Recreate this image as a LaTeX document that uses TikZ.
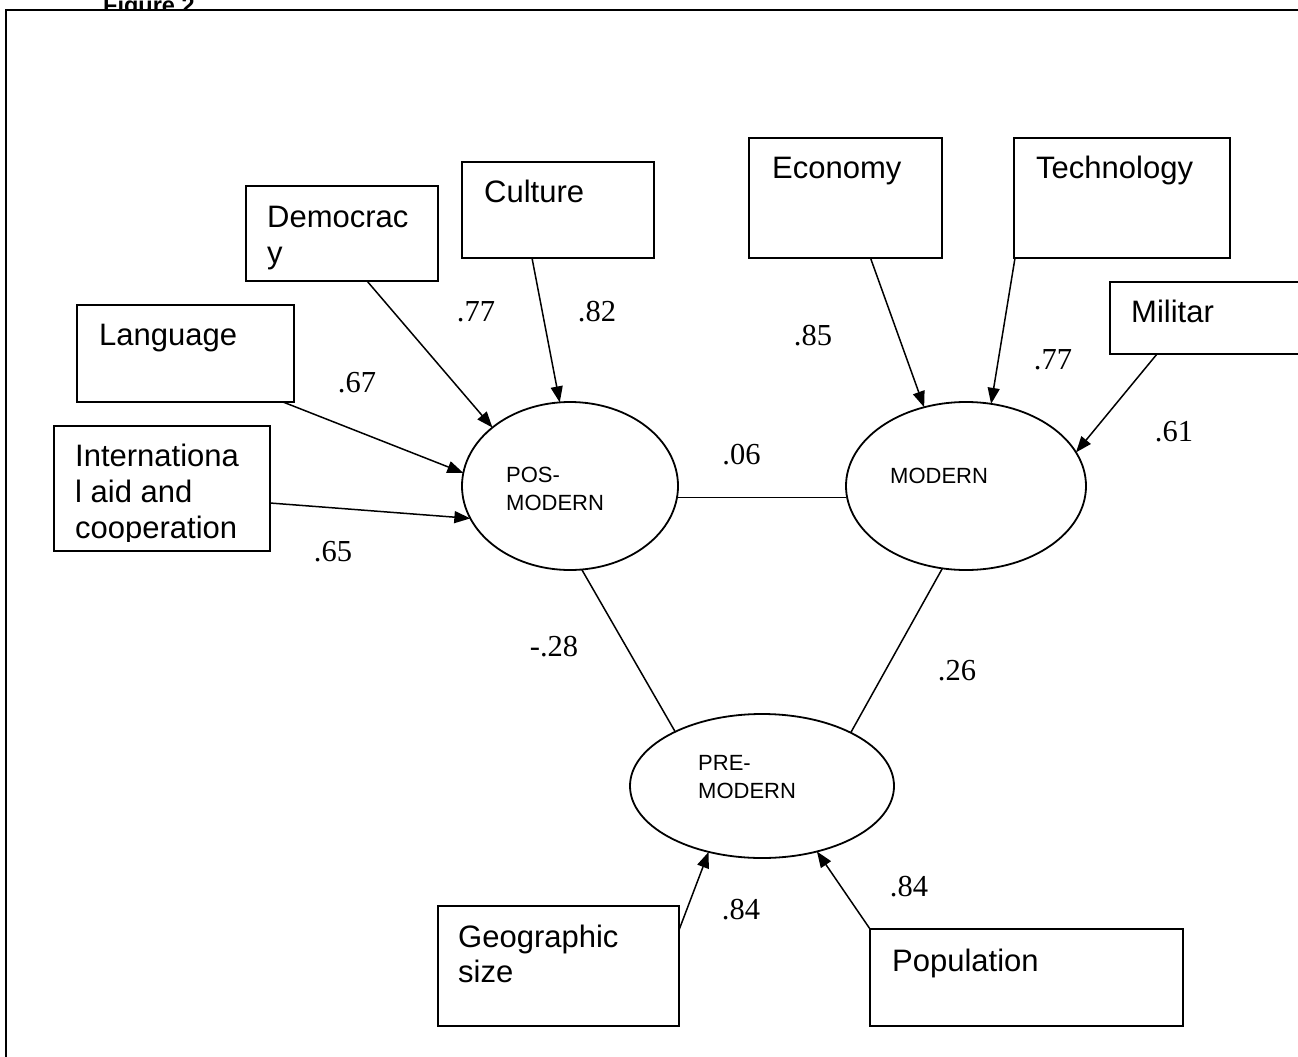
\documentclass[tikz,border=0pt]{standalone}
\usepackage{fontspec}
\setmainfont{Liberation Sans}
\newfontfamily\tnrfont{Liberation Serif}
\usetikzlibrary{arrows.meta,calc,shapes.geometric}
\tikzset{
 box/.style={draw, line width=1.8pt, inner sep=0pt, outer sep=0pt, rectangle},
 ell/.style={draw, line width=1.8pt, ellipse, inner sep=0pt, outer sep=0pt},
 btext/.style={anchor=base west, inner sep=0pt, font=\fontsize{31}{36}\selectfont},
 etext/.style={anchor=base west, inner sep=0pt, font=\fontsize{22}{26}\selectfont},
 coef/.style={inner sep=0pt, font=\tnrfont\fontsize{30.5}{34}\selectfont},
 arr/.style={line width=1.5pt, -{Triangle[length=16pt,width=12pt]}},
 link/.style={line width=1.5pt},
 frame/.style={line width=1.8pt},
}
\begin{document}
\begin{tikzpicture}[x=1pt,y=-1pt]
\useasboundingbox (0,0) rectangle (1298,1057);
\clip (0,0) rectangle (1298,1057);
% title, cut by the frame
\begin{scope}
\clip (0,0) rectangle (1298,10);
\node[anchor=base west, inner sep=0pt, font=\bfseries\fontsize{23.5}{28}\selectfont] (title) at (103,14) {Figure 2};
\end{scope}
\coordinate (fbl) at (6,1080);
\coordinate (ftl) at (6,10);
\coordinate (ftr) at (1320,10);
\draw[frame] (fbl) -- (ftl) -- (ftr);

% boxes
\node[box, minimum width=192pt, minimum height=95pt] (dem) at (342,233.5) {};
\node[box, minimum width=192pt, minimum height=96pt] (cul) at (558,210) {};
\node[box, minimum width=217pt, minimum height=97pt] (lan) at (185.5,353.5) {};
\node[box, minimum width=216pt, minimum height=125pt] (int) at (162,488.5) {};
\node[box, minimum width=193pt, minimum height=120pt] (eco) at (845.5,198) {};
\node[box, minimum width=216pt, minimum height=120pt] (tec) at (1122,198) {};
\node[box, minimum width=210pt, minimum height=72pt] (mil) at (1215,318) {};
\node[box, minimum width=241pt, minimum height=120pt] (geo) at (558.5,966) {};
\node[box, minimum width=313pt, minimum height=97pt] (pop) at (1026.5,977.5) {};

% box texts
\node[btext] (dem1) at (267,227) {Democrac};
\node[btext] (dem2) at (267,263) {y};
\node[btext] (cul1) at (484,202) {Culture};
\node[btext] (lan1) at (99,345) {Language};
\node[btext] (int1) at (75,466) {Internationa};
\node[btext] (int2) at (75,502) {l aid and};
\begin{scope}
\clip (54,426) rectangle (270,541);
\node[btext] (int3) at (75,538) {cooperation};
\end{scope}
\node[btext] (eco1) at (772,178) {Economy};
\node[btext] (tec1) at (1036,178) {Technology};
\node[btext] (mil1) at (1131,322) {Militar};
\node[btext] (geo1) at (458,947) {Geographic};
\node[btext] (geo2) at (458,982) {size};
\node[btext] (pop1) at (892,971) {Population};

% latent variables
\node[ell, minimum width=216pt, minimum height=168pt] (pos) at (570,486) {};
\node[ell, minimum width=240pt, minimum height=168pt] (mod) at (966,486) {};
\node[ell, minimum width=264pt, minimum height=144pt] (pre) at (762,786) {};
\node[etext] (pos1) at (506,482) {POS-};
\node[etext] (pos2) at (506,510) {MODERN};
\node[etext] (mod1) at (890,483) {MODERN};
\node[etext] (pre1) at (698,770) {PRE-};
\node[etext] (pre2) at (698,798) {MODERN};

% arrows
\draw[arr] ($(dem.south)+(25,0)$) -- (pos.143.7);
\draw[arr] ($(cul.south)+(-26,0)$) -- (pos.97.9);
\draw[arr] ($(lan.south east)+(-11,0)$) -- (pos.173.1);
\draw[arr] ($(int.east)+(0,14.5)$) -- (pos.198.4);
\draw[arr] ($(eco.south)+(25,0)$) -- (mod.118.4);
\draw[arr] ($(tec.south west)+(1,0)$) -- (mod.73.2);
\draw[arr] ($(mil.south west)+(47,0)$) -- (mod.17);
\draw[arr] ($(geo.north east)+(0,24)$) -- (pre.231.4);
\draw[arr] (pop.north west) -- (pre.310.3);

% correlations
\draw[link] (pos.354) -- (pos.354 -| mod.west);
\draw[link] (pos.278) -- (pre.148.4);
\draw[link] (mod.254.7) -- (pre.31.3);

% coefficients
\node[coef] (c1) at (476,312) {.77};
\node[coef] (c2) at (597,312) {.82};
\node[coef] (c3) at (357,383) {.67};
\node[coef] (c4) at (333,552) {.65};
\node[coef] (c5) at (813,336) {.85};
\node[coef] (c6) at (1053,360) {.77};
\node[coef] (c7) at (1174,432) {.61};
\node[coef] (c8) at (741.5,455) {.06};
\node[coef] (c9) at (554,647) {-.28};
\node[coef] (c10) at (957,671) {.26};
\node[coef] (c11) at (741,910) {.84};
\node[coef] (c12) at (909,887) {.84};
\end{tikzpicture}
\end{document}
